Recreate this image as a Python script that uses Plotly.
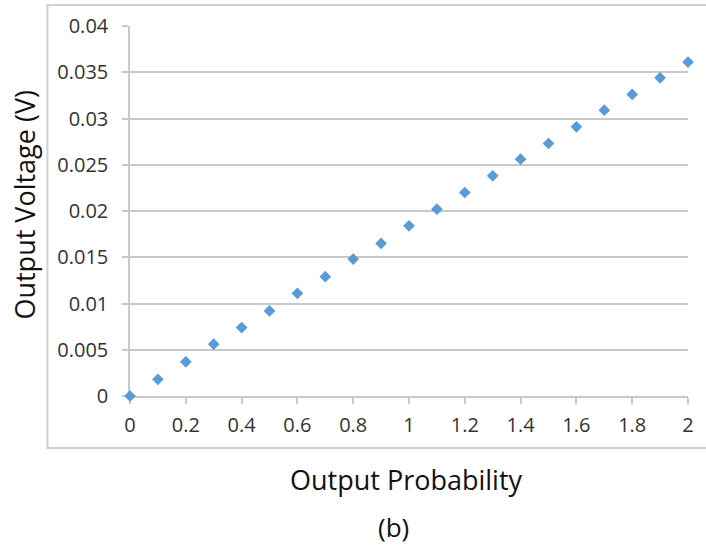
import plotly.graph_objects as go

prob = [0, 0.1, 0.2, 0.3, 0.4, 0.5, 0.6, 0.7, 0.8, 0.9, 1.0,
        1.1, 1.2, 1.3, 1.4, 1.5, 1.6, 1.7, 1.8, 1.9, 2.0]
voltage = [0.0, 0.0018, 0.0037, 0.0056, 0.0074, 0.0092, 0.0111, 0.0129, 0.0148, 0.0165, 0.0184,
           0.0202, 0.0220, 0.0238, 0.0256, 0.0273, 0.0291, 0.0309, 0.0326, 0.0344, 0.0361]
x_ticks = [0, 0.2, 0.4, 0.6, 0.8, 1, 1.2, 1.4, 1.6, 1.8, 2]
x_tick_text = ["0", "0.2", "0.4", "0.6", "0.8", "1", "1.2", "1.4", "1.6", "1.8", "2"]
y_ticks = [0, 0.005, 0.01, 0.015, 0.02, 0.025, 0.03, 0.035, 0.04]
y_tick_text = ["0", "0.005", "0.01", "0.015", "0.02", "0.025", "0.03", "0.035", "0.04"]

FONT = "Open Sans, Lato, DejaVu Sans, sans-serif"
GRID = "#C9C9C9"

fig = go.Figure()
fig.add_trace(go.Scatter(
    x=prob, y=voltage, mode="markers", cliponaxis=False,
    marker=dict(symbol="diamond", size=9, color="#5B9BD5", line=dict(width=0)),
    showlegend=False,
))

fig.update_layout(
    width=706, height=548,
    margin=dict(l=130, r=15, t=26, b=152),
    paper_bgcolor="white", plot_bgcolor="white",
    font=dict(family=FONT, size=20, color="#333333"),
    xaxis=dict(
        range=[0, 2], tickvals=x_ticks, ticktext=x_tick_text,
        showgrid=False, zeroline=False, layer="below traces",
        showline=True, linecolor=GRID, linewidth=1.5,
        ticks="outside", ticklen=6, tickcolor=GRID, tickwidth=1.5,
        tickfont=dict(size=20, color="#333333"),
        ticklabelstandoff=4,
    ),
    yaxis=dict(
        range=[0, 0.04], tickvals=y_ticks, ticktext=y_tick_text,
        showgrid=True, gridcolor=GRID, gridwidth=1.5,
        zeroline=False, layer="below traces",
        showline=True, linecolor=GRID, linewidth=1.5,
        ticks="outside", ticklen=6, tickcolor=GRID, tickwidth=1.5,
        tickfont=dict(size=20, color="#333333"),
        ticklabelstandoff=10,
    ),
    shapes=[dict(
        type="rect", xref="paper", yref="paper",
        x0=-0.148, x1=1.04, y0=-0.1405, y1=1.057,
        line=dict(color="#D0D0D0", width=2), fillcolor="rgba(0,0,0,0)", layer="below",
    )],
    annotations=[
        dict(text="Output Voltage (V)", xref="paper", yref="paper",
             x=(23 - 130) / 561, y=(396 - 205) / 370, textangle=-90,
             showarrow=False, font=dict(size=27, color="#111111", family=FONT),
             xanchor="center", yanchor="middle"),
        dict(text="Output Probability", xref="paper", yref="paper",
             x=(408 - 130) / 561, y=(396 - 479) / 370,
             showarrow=False, font=dict(size=27, color="#111111", family=FONT),
             xanchor="center", yanchor="middle"),
        dict(text="(b)", xref="paper", yref="paper",
             x=(395 - 130) / 561, y=(396 - 527) / 370,
             showarrow=False, font=dict(size=26, color="#111111", family=FONT),
             xanchor="center", yanchor="middle"),
    ],
)

fig.write_html("out.html")
